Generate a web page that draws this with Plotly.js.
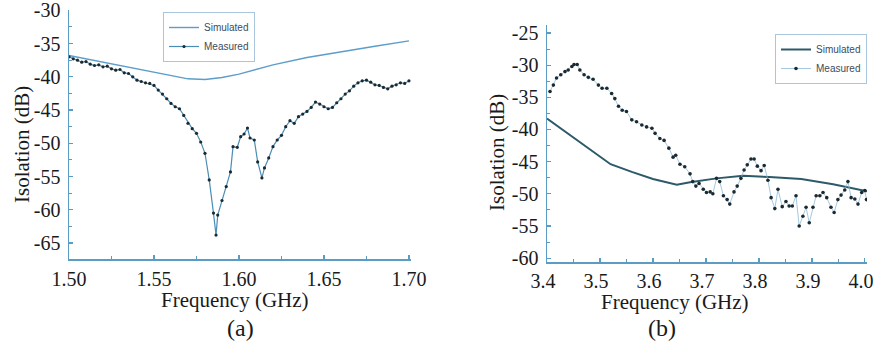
<!DOCTYPE html>
<html>
<head>
<meta charset="utf-8">
<script src="https://cdn.plot.ly/plotly-3.0.1.min.js"></script>
<style>html,body{margin:0;padding:0;background:#fff;}#chart{width:875px;height:348px;}</style>
</head>
<body>
<div id="chart"></div>
<script>
// ---- Panel (a) ----
const simAFreq = [1.50, 1.52, 1.54, 1.56, 1.57, 1.58, 1.59, 1.60, 1.61, 1.62, 1.64, 1.66, 1.68, 1.70];
const simAIso  = [-36.8, -37.8, -38.9, -39.9, -40.3, -40.4, -40.1, -39.6, -38.9, -38.2, -37.1, -36.2, -35.4, -34.6];

const measAFreq = [1.5000,1.5025,1.5050,1.5075,1.5100,1.5125,1.5150,1.5175,1.5200,1.5225,1.5250,1.5275,1.5300,1.5325,1.5350,1.5375,1.5400,1.5425,1.5450,1.5475,1.5500,1.5525,1.5550,1.5575,1.5600,1.5625,1.5650,1.5675,1.5700,1.5725,1.5750,1.5775,1.5800,1.5825,1.5850,1.5865,1.5875,1.5900,1.5925,1.5950,1.5965,1.5990,1.6010,1.6030,1.6050,1.6065,1.6090,1.6110,1.6135,1.6150,1.6175,1.6200,1.6225,1.6250,1.6275,1.6300,1.6325,1.6350,1.6375,1.6400,1.6425,1.6450,1.6475,1.6500,1.6525,1.6550,1.6575,1.6600,1.6625,1.6650,1.6675,1.6700,1.6725,1.6750,1.6775,1.6800,1.6825,1.6850,1.6875,1.6900,1.6925,1.6950,1.6975,1.7000];
const measAIso  = [-37.0,-37.3,-37.5,-37.8,-37.7,-38.1,-38.3,-38.2,-38.5,-38.4,-38.8,-39.0,-38.9,-39.4,-39.5,-40.0,-40.5,-40.7,-40.9,-41.0,-41.3,-42.0,-42.6,-43.3,-44.0,-44.5,-44.8,-45.8,-47.0,-47.8,-48.5,-49.8,-51.5,-55.5,-60.5,-63.8,-60.8,-58.6,-56.5,-54.3,-50.5,-50.6,-49.0,-48.6,-47.7,-49.2,-49.5,-52.8,-55.2,-53.7,-52.2,-50.5,-49.5,-48.8,-47.5,-46.6,-47.0,-46.0,-45.6,-45.2,-44.6,-43.8,-44.1,-44.5,-44.8,-44.6,-43.9,-43.3,-42.6,-42.1,-41.4,-40.9,-40.6,-40.5,-40.8,-41.2,-41.3,-41.6,-41.8,-41.4,-41.2,-40.9,-41.0,-40.6];

const ticksAX = [1.50, 1.55, 1.60, 1.65, 1.70];
const ticksAXText = ['1.50', '1.55', '1.60', '1.65', '1.70'];
const ticksAY = [-65, -60, -55, -50, -45, -40, -35, -30];
const ticksAYText = ['-65', '-60', '-55', '-50', '-45', '-40', '-35', '-30'];

// ---- Panel (b) ----
const simBFreq = [3.40, 3.46, 3.52, 3.56, 3.60, 3.645, 3.67, 3.72, 3.77, 3.82, 3.88, 3.94, 4.004];
const simBIso  = [-38.3, -41.8, -45.4, -46.6, -47.7, -48.6, -48.2, -47.6, -47.2, -47.4, -47.7, -48.5, -49.6];

const measBFreq = [3.4057,3.412,3.418,3.426,3.434,3.440,3.447,3.451,3.457,3.462,3.470,3.478,3.487,3.497,3.504,3.513,3.522,3.528,3.535,3.542,3.550,3.560,3.569,3.579,3.588,3.598,3.604,3.613,3.621,3.630,3.638,3.643,3.651,3.660,3.670,3.675,3.681,3.687,3.695,3.701,3.708,3.713,3.720,3.726,3.733,3.740,3.745,3.753,3.759,3.766,3.772,3.778,3.785,3.791,3.797,3.804,3.810,3.817,3.823,3.830,3.836,3.844,3.851,3.857,3.863,3.870,3.876,3.883,3.889,3.895,3.902,3.908,3.915,3.921,3.928,3.936,3.942,3.949,3.955,3.962,3.968,3.974,3.981,3.987,3.994,4.000,4.003];
const measBIso  = [-34.1,-33.1,-32.0,-31.5,-31.0,-30.75,-30.2,-29.9,-29.9,-30.75,-31.5,-31.9,-32.2,-33.1,-33.6,-33.6,-34.4,-35.2,-36.4,-37.0,-37.2,-38.5,-38.8,-39.3,-39.6,-39.8,-40.6,-41.4,-41.7,-42.9,-44.3,-44.0,-45.4,-45.8,-46.9,-48.1,-48.8,-48.4,-49.3,-49.8,-49.7,-50.0,-47.6,-48.1,-50.3,-50.9,-51.6,-49.7,-48.8,-47.6,-46.3,-45.5,-44.6,-44.6,-45.7,-46.4,-45.6,-47.9,-50.6,-52.3,-49.3,-52.0,-51.2,-51.9,-51.9,-50.3,-55.0,-53.5,-52.1,-54.5,-52.1,-50.3,-50.3,-49.8,-50.6,-52.1,-52.9,-50.9,-50.2,-49.4,-48.1,-50.6,-50.8,-51.6,-49.8,-49.5,-50.9];

const ticksBX = [3.4, 3.5, 3.6, 3.7, 3.8, 3.9, 4.0];
const ticksBXText = ['3.4', '3.5', '3.6', '3.7', '3.8', '3.9', '4.0'];
const ticksBY = [-60, -55, -50, -45, -40, -35, -30, -25];
const ticksBYText = ['-60', '-55', '-50', '-45', '-40', '-35', '-30', '-25'];

const seriesNames = ['Simulated', 'Measured'];
const axisTitleX = 'Frequency (GHz)';
const axisTitleY = 'Isolation (dB)';
const panelLabels = ['(a)', '(b)'];

// ---- styling ----
const W = 875, H = 348;
const px = v => v / W;
const py = v => (H - v) / H;
const serif = 'Liberation Serif';
const sans = 'Liberation Sans';
const axisBlue = '#5a9cc4';
const ink = '#1a1a1a';

function axisStyle(extra, minorDtick) {
  return Object.assign({
    showgrid: false, zeroline: false, showline: true, linecolor: axisBlue, linewidth: 1.5,
    ticks: 'inside', ticklen: 4, tickwidth: 1.2, tickcolor: axisBlue,
    minor: {ticks: 'inside', ticklen: 3, tickwidth: 1, tickcolor: axisBlue, dtick: minorDtick, showgrid: false},
    tickfont: {family: serif, size: 20, color: ink},
    ticklabeloverflow: 'allow',
    mirror: false, fixedrange: true
  }, extra);
}

const traces = [
  {x: simAFreq, y: simAIso, name: seriesNames[0], mode: 'lines', xaxis: 'x', yaxis: 'y', legend: 'legend',
   line: {color: '#5c9dc9', width: 1.4}},
  {x: measAFreq, y: measAIso, name: seriesNames[1], mode: 'lines+markers', xaxis: 'x', yaxis: 'y', legend: 'legend',
   line: {color: '#4b8db5', width: 1.2}, marker: {color: '#1b2a30', size: 3.2}},
  {x: simBFreq, y: simBIso, name: seriesNames[0], mode: 'lines', xaxis: 'x2', yaxis: 'y2', legend: 'legend2',
   line: {color: '#2c5a68', width: 2}},
  {x: measBFreq, y: measBIso, name: seriesNames[1], mode: 'lines+markers', xaxis: 'x2', yaxis: 'y2', legend: 'legend2',
   line: {color: '#8dbad8', width: 0.8}, marker: {color: '#1b2a30', size: 3.6}}
];

const legendBase = {
  bgcolor: '#ffffff', bordercolor: '#a9c6dc', borderwidth: 1,
  font: {family: sans, size: 10, color: '#3d4b5c'},
  tracegroupgap: 0, itemwidth: 30, xanchor: 'left', yanchor: 'top'
};

const layout = {
  width: W, height: H,
  margin: {l: 0, r: 0, t: 0, b: 0},
  paper_bgcolor: '#ffffff', plot_bgcolor: '#ffffff',
  font: {family: serif, color: ink},
  showlegend: true,
  legend: Object.assign({}, legendBase, {x: px(163), y: py(12)}),
  legend2: Object.assign({}, legendBase, {x: px(775), y: py(34)}),
  xaxis: axisStyle({domain: [px(69), px(411)], range: [1.5, 1.7012], anchor: 'y',
    tickvals: ticksAX, ticktext: ticksAXText, ticklabelstandoff: 1}, 0.025),
  yaxis: axisStyle({domain: [py(259), py(10)], range: [-67.4, -29.95], anchor: 'x',
    tickvals: ticksAY, ticktext: ticksAYText, ticklabelstandoff: 3}, 2.5),
  xaxis2: axisStyle({domain: [px(547), px(867)], range: [3.4, 4.004], anchor: 'y2',
    tickvals: ticksBX, ticktext: ticksBXText, ticklabelstandoff: 0, ticklabelshift: -4}, 0.05),
  yaxis2: axisStyle({domain: [py(262), py(25)], range: [-60.6, -23.76], anchor: 'x2',
    tickvals: ticksBY, ticktext: ticksBYText, ticklabelstandoff: 3}, 2.5),
  annotations: [
    {text: axisTitleX, xref: 'paper', yref: 'paper', x: px(235), y: py(300), showarrow: false,
     font: {family: serif, size: 21, color: ink}, xanchor: 'center', yanchor: 'middle'},
    {text: axisTitleX, xref: 'paper', yref: 'paper', x: px(675), y: py(302), showarrow: false,
     font: {family: serif, size: 21, color: ink}, xanchor: 'center', yanchor: 'middle'},
    {text: panelLabels[0], xref: 'paper', yref: 'paper', x: px(240), y: py(328), showarrow: false,
     font: {family: serif, size: 24, color: ink}, xanchor: 'center', yanchor: 'middle'},
    {text: panelLabels[1], xref: 'paper', yref: 'paper', x: px(662), y: py(328), showarrow: false,
     font: {family: serif, size: 24, color: ink}, xanchor: 'center', yanchor: 'middle'},
    {text: axisTitleY, xref: 'paper', yref: 'paper', x: px(22), y: py(145), showarrow: false, textangle: -90,
     font: {family: serif, size: 21, color: ink}, xanchor: 'center', yanchor: 'middle'},
    {text: axisTitleY, xref: 'paper', yref: 'paper', x: px(497), y: py(152), showarrow: false, textangle: -90,
     font: {family: serif, size: 21, color: ink}, xanchor: 'center', yanchor: 'middle'}
  ]
};

Plotly.newPlot('chart', traces, layout, {displayModeBar: false, staticPlot: true});
</script>
</body>
</html>
